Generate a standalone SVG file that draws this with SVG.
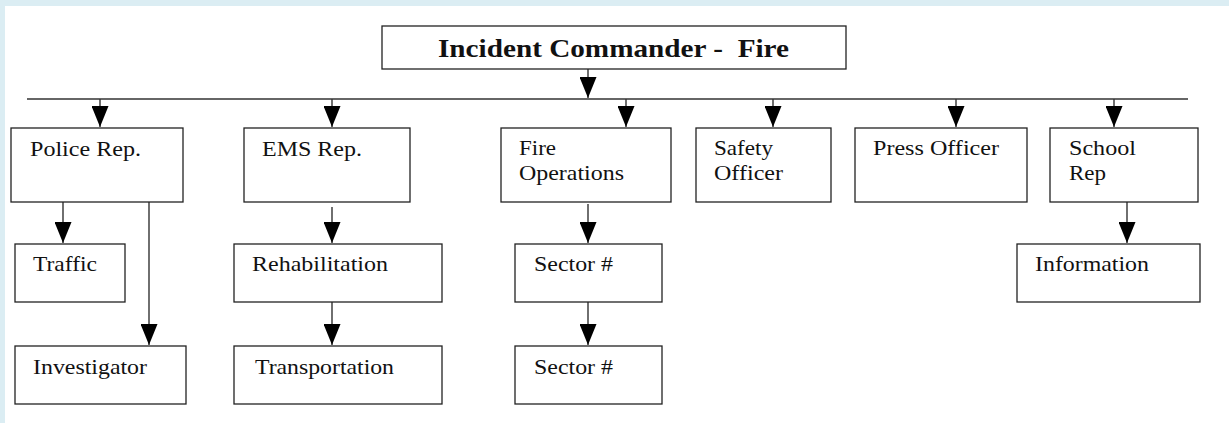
<svg xmlns="http://www.w3.org/2000/svg" width="1229" height="423" viewBox="0 0 1229 423">
<style>
.box{fill:#fff;stroke:#222;stroke-width:1.3}
.ln{stroke:#333;stroke-width:1.4;fill:none}
.t{font-family:"Liberation Serif","Times New Roman",serif;font-size:22px;fill:#111}
.tb{font-family:"Liberation Serif","Times New Roman",serif;font-size:26px;font-weight:bold;fill:#111;white-space:pre}
</style>
<defs>
<marker id="ah" markerUnits="userSpaceOnUse" markerWidth="21" markerHeight="17" refX="21" refY="8.5" orient="auto">
<path d="M0,0 L21,8.5 L0,17 Z" fill="#000"/>
</marker>
</defs>
<rect x="0" y="0" width="1229" height="423" fill="#dbedf3"/>
<rect x="5" y="6" width="1224" height="417" fill="#fff"/>

<g id="connectors">
<line class="ln" x1="588" y1="69" x2="588" y2="98" marker-end="url(#ah)"/>
<line class="ln" x1="27" y1="99" x2="1188" y2="99"/>
<line class="ln" x1="100" y1="99" x2="100" y2="127" marker-end="url(#ah)"/>
<line class="ln" x1="332" y1="99" x2="332" y2="127" marker-end="url(#ah)"/>
<line class="ln" x1="626" y1="99" x2="626" y2="127" marker-end="url(#ah)"/>
<line class="ln" x1="773" y1="99" x2="773" y2="127" marker-end="url(#ah)"/>
<line class="ln" x1="956" y1="99" x2="956" y2="127" marker-end="url(#ah)"/>
<line class="ln" x1="1114" y1="99" x2="1114" y2="127" marker-end="url(#ah)"/>
<line class="ln" x1="63" y1="202" x2="63" y2="243" marker-end="url(#ah)"/>
<line class="ln" x1="149" y1="202" x2="149" y2="345" marker-end="url(#ah)"/>
<line class="ln" x1="332" y1="207" x2="332" y2="243" marker-end="url(#ah)"/>
<line class="ln" x1="332" y1="302" x2="332" y2="345" marker-end="url(#ah)"/>
<line class="ln" x1="588" y1="204" x2="588" y2="243" marker-end="url(#ah)"/>
<line class="ln" x1="588" y1="302" x2="588" y2="345" marker-end="url(#ah)"/>
<line class="ln" x1="1127" y1="200" x2="1127" y2="243" marker-end="url(#ah)"/>
</g>

<g id="ic">
<rect class="box" x="382" y="26" width="464" height="43"/>
<text class="tb" x="438" y="57" textLength="351" lengthAdjust="spacingAndGlyphs" xml:space="preserve">Incident Commander -  Fire</text>
</g>
<g id="police">
<rect class="box" x="11" y="128" width="172" height="74"/>
<text class="t" x="30" y="156" textLength="111" lengthAdjust="spacingAndGlyphs">Police Rep.</text>
</g>
<g id="ems">
<rect class="box" x="244" y="128" width="166" height="74"/>
<text class="t" x="262" y="156" textLength="100" lengthAdjust="spacingAndGlyphs">EMS Rep.</text>
</g>
<g id="fireops">
<rect class="box" x="501" y="128" width="170" height="74"/>
<text class="t" x="519" y="155" textLength="37" lengthAdjust="spacingAndGlyphs">Fire</text>
<text class="t" x="519" y="180" textLength="105" lengthAdjust="spacingAndGlyphs">Operations</text>
</g>
<g id="safety">
<rect class="box" x="696" y="128" width="135" height="74"/>
<text class="t" x="714" y="155" textLength="59" lengthAdjust="spacingAndGlyphs">Safety</text>
<text class="t" x="714" y="180" textLength="69" lengthAdjust="spacingAndGlyphs">Officer</text>
</g>
<g id="press">
<rect class="box" x="855" y="128" width="172" height="74"/>
<text class="t" x="873" y="155" textLength="126" lengthAdjust="spacingAndGlyphs">Press Officer</text>
</g>
<g id="school">
<rect class="box" x="1050" y="128" width="148" height="74"/>
<text class="t" x="1069" y="155" textLength="67" lengthAdjust="spacingAndGlyphs">School</text>
<text class="t" x="1069" y="180" textLength="37" lengthAdjust="spacingAndGlyphs">Rep</text>
</g>
<g id="traffic">
<rect class="box" x="15" y="244" width="110" height="58"/>
<text class="t" x="33" y="271" textLength="64" lengthAdjust="spacingAndGlyphs">Traffic</text>
</g>
<g id="investigator">
<rect class="box" x="15" y="346" width="171" height="58"/>
<text class="t" x="33" y="374" textLength="114" lengthAdjust="spacingAndGlyphs">Investigator</text>
</g>
<g id="rehab">
<rect class="box" x="234" y="244" width="208" height="58"/>
<text class="t" x="252" y="271" textLength="136" lengthAdjust="spacingAndGlyphs">Rehabilitation</text>
</g>
<g id="transport">
<rect class="box" x="234" y="346" width="208" height="58"/>
<text class="t" x="255" y="374" textLength="139" lengthAdjust="spacingAndGlyphs">Transportation</text>
</g>
<g id="sector1">
<rect class="box" x="515" y="244" width="147" height="58"/>
<text class="t" x="534" y="271" textLength="79" lengthAdjust="spacingAndGlyphs">Sector #</text>
</g>
<g id="sector2">
<rect class="box" x="515" y="346" width="147" height="58"/>
<text class="t" x="534" y="374" textLength="79" lengthAdjust="spacingAndGlyphs">Sector #</text>
</g>
<g id="information">
<rect class="box" x="1017" y="244" width="183" height="58"/>
<text class="t" x="1035" y="271" textLength="114" lengthAdjust="spacingAndGlyphs">Information</text>
</g>
</svg>
